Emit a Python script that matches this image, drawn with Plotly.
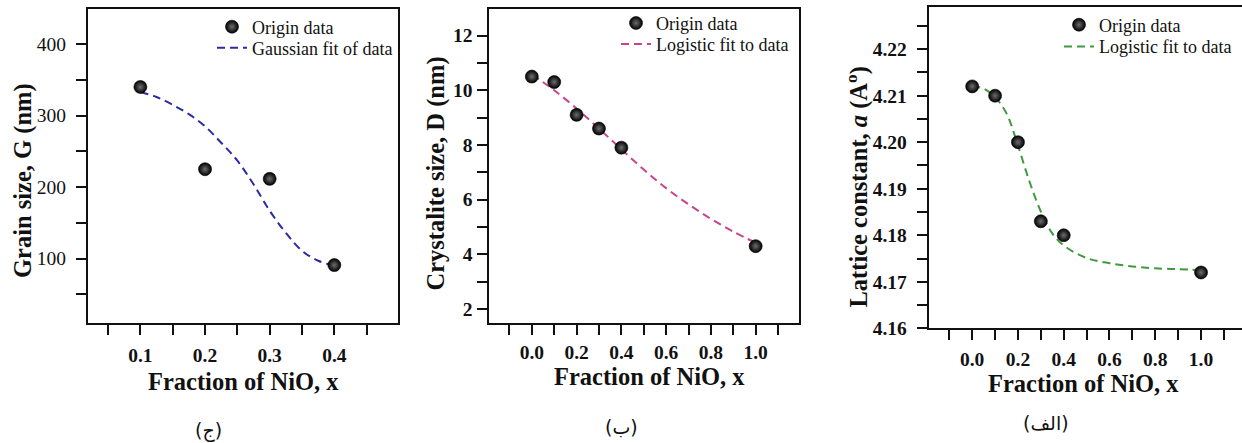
import plotly.graph_objects as go

W, H = 1242, 443

# ---------------- data ----------------
# Panel (ج): grain size
x_grain = [0.1, 0.2, 0.3, 0.4]
y_grain = [340, 225, 211.5, 91]
x_grain_fit = [0.100, 0.125, 0.150, 0.175, 0.200, 0.225, 0.250, 0.275, 0.300, 0.325, 0.350, 0.375, 0.400]
y_grain_fit = [333, 326, 315, 302, 285, 262, 237, 204, 167, 136, 111, 97, 90]

# Panel (ب): crystallite size
x_cryst = [0.0, 0.1, 0.2, 0.3, 0.4, 1.0]
y_cryst = [10.5, 10.3, 9.1, 8.6, 7.9, 4.3]
x_cryst_fit = [0.0, 0.1, 0.2, 0.3, 0.4, 0.5, 0.6, 0.7, 0.8, 0.9, 1.0]
y_cryst_fit = [10.58, 10.0, 9.33, 8.6, 7.84, 7.1, 6.42, 5.83, 5.3, 4.83, 4.42]

# Panel (الف): lattice constant
x_latt = [0.0, 0.1, 0.2, 0.3, 0.4, 1.0]
y_latt = [4.212, 4.210, 4.200, 4.183, 4.180, 4.172]
x_latt_fit = [0.0, 0.05, 0.1, 0.15, 0.2, 0.25, 0.3, 0.35, 0.4, 0.5, 0.6, 0.7, 0.8, 0.9, 1.0]
y_latt_fit = [4.2121, 4.2115, 4.2097, 4.2062, 4.1993, 4.1916, 4.1851, 4.1804, 4.1778,
              4.1751, 4.1740, 4.1733, 4.1729, 4.1727, 4.1725]

legend_points = "Origin data"
legend_fits = ["Gaussian fit of data", "Logistic fit to data", "Logistic fit to data"]
fit_colors = ["#2b2ba6", "#c8448e", "#3f9a3f"]
captions = ["(ج)", "(ب)", "(الف)"]
x_titles = ["Fraction of NiO, x"] * 3
y_titles = ["Grain size, G (nm)", "Crystalite size, D (nm)",
            "Lattice constant, <i>a</i> (A<sup>o</sup>)"]

SERIF = "Liberation Serif"


def px(x):
    return x / W


def py(y):
    return 1 - y / H


fig = go.Figure()

panels = [
    (x_grain, y_grain, x_grain_fit, y_grain_fit),
    (x_cryst, y_cryst, x_cryst_fit, y_cryst_fit),
    (x_latt, y_latt, x_latt_fit, y_latt_fit),
]

for i, (xs, ys, xf, yf) in enumerate(panels):
    sfx = "" if i == 0 else str(i + 1)
    leg_pts = "legend" if i == 0 else "legend" + str(2 * i + 1)
    leg_fit = "legend" + str(2 * i + 2)
    fig.add_trace(go.Scatter(
        x=xf, y=yf, mode="lines", name=legend_fits[i],
        xaxis="x" + sfx, yaxis="y" + sfx, legend=leg_fit,
        line=dict(color=fit_colors[i], width=2, dash="8px,5px", shape="spline", smoothing=1),
    ))
    fig.add_trace(go.Scatter(
        x=xs, y=ys, mode="markers", name=legend_points,
        xaxis="x" + sfx, yaxis="y" + sfx, legend=leg_pts,
        marker=dict(size=13, color="#000000",
                    gradient=dict(type="radial", color="#6e6e6e"),
                    line=dict(width=0.6, color="#000000")),
    ))

tickfont_bold = dict(family=SERIF, size=19.5, color="#111111", weight="bold")
tickfont_reg = dict(family=SERIF, size=19.5, color="#111111")

common_axis = dict(showline=True, linecolor="#111111", linewidth=2, ticks="outside",
                   ticklen=10, tickwidth=2, tickcolor="#111111", showgrid=False,
                   zeroline=False)


def minor(dt, t0=0):
    return dict(dtick=dt, tick0=t0, ticks="outside", ticklen=10, tickwidth=2, tickcolor="#111111")


layout_axes = {}
# Panel 1
layout_axes["xaxis"] = dict(common_axis, domain=[px(88), px(398)], range=[0.019, 0.4985],
                            anchor="y", mirror=True, tickvals=[0.1, 0.2, 0.3, 0.4],
                            tickformat=".1f", tickfont=tickfont_bold, ticklabelstandoff=4,
                            minor=minor(0.05))
layout_axes["yaxis"] = dict(common_axis, domain=[py(323), py(9)], range=[10, 449],
                            anchor="x", mirror=True, tickvals=[100, 200, 300, 400],
                            tickfont=tickfont_reg, ticklabelstandoff=6,
                            minor=minor(50))
# Panel 2
layout_axes["xaxis2"] = dict(common_axis, domain=[px(489.3), px(799.3)], range=[-0.19, 1.195],
                             anchor="y2", mirror=True, tick0=0, dtick=0.2,
                             tickformat=".1f", tickfont=tickfont_bold, ticklabelstandoff=1,
                             minor=minor(0.1))
layout_axes["yaxis2"] = dict(common_axis, domain=[py(322.7), py(9.3)], range=[1.5, 12.96],
                             anchor="x2", mirror=True, tick0=0, dtick=2,
                             tickfont=tickfont_bold, ticklabelstandoff=1,
                             minor=minor(1))
# Panel 3 (its right border lies beyond the picture)
layout_axes["xaxis3"] = dict(common_axis, domain=[px(928.7), 1.0], range=[-0.19, 1.179],
                             anchor="y3", mirror=True, tick0=0, dtick=0.2,
                             tickformat=".1f", tickfont=tickfont_bold, ticklabelstandoff=2,
                             minor=minor(0.1))
layout_axes["yaxis3"] = dict(common_axis, domain=[py(328.3), py(7.3)], range=[4.16, 4.229],
                             anchor="x3", mirror=False, tick0=4.16, dtick=0.01,
                             tickformat=".2f", tickfont=tickfont_bold, ticklabelstandoff=6,
                             minor=minor(0.005, 4.16))

legend_common = dict(font=dict(family=SERIF, size=18, color="#111111"),
                     bgcolor="rgba(0,0,0,0)", borderwidth=0,
                     xanchor="left", yanchor="middle")
# one legend per row so each row sits where the reference has it
legend_rows = [
    (212, 27), (212, 48),        # panel 1: points, fit
    (616, 23.3), (616, 44.3),    # panel 2
    (1059, 25), (1059, 46.7),    # panel 3
]
legends = {}
for k, (lx, ly) in enumerate(legend_rows):
    name = "legend" if k == 0 else "legend" + str(k + 1)
    legends[name] = dict(legend_common, x=px(lx), y=py(ly))

title_font = dict(family=SERIF, size=24.5, color="#111111", weight="bold")
annotations = []
x_title_pos = [(243.5, 381.5), (649, 376), (1083, 383)]
y_title_pos = [(23, 181), (435, 173.5), (857, 187.5)]
caption_pos = [(208, 430), (621, 427), (1046, 423)]
for i in range(3):
    annotations.append(dict(text=x_titles[i], x=px(x_title_pos[i][0]), y=py(x_title_pos[i][1]),
                            xref="paper", yref="paper", showarrow=False,
                            xanchor="center", yanchor="middle", font=title_font))
    annotations.append(dict(text=y_titles[i], x=px(y_title_pos[i][0]), y=py(y_title_pos[i][1]),
                            xref="paper", yref="paper", showarrow=False, textangle=-90,
                            xanchor="center", yanchor="middle", font=title_font))
    annotations.append(dict(text=captions[i], x=px(caption_pos[i][0]), y=py(caption_pos[i][1]),
                            xref="paper", yref="paper", showarrow=False,
                            xanchor="center", yanchor="middle",
                            font=dict(family="DejaVu Sans", size=19, color="#111111")))

fig.update_layout(
    width=W, height=H,
    margin=dict(l=0, r=0, t=0, b=0, autoexpand=False),
    paper_bgcolor="white", plot_bgcolor="white",
    showlegend=True,
    annotations=annotations,
    **layout_axes,
    **legends,
)

fig.write_html(
    "out.html",
    config={"displayModeBar": False},
    post_script="document.body.style.margin='0';document.body.style.overflow='hidden';",
)
